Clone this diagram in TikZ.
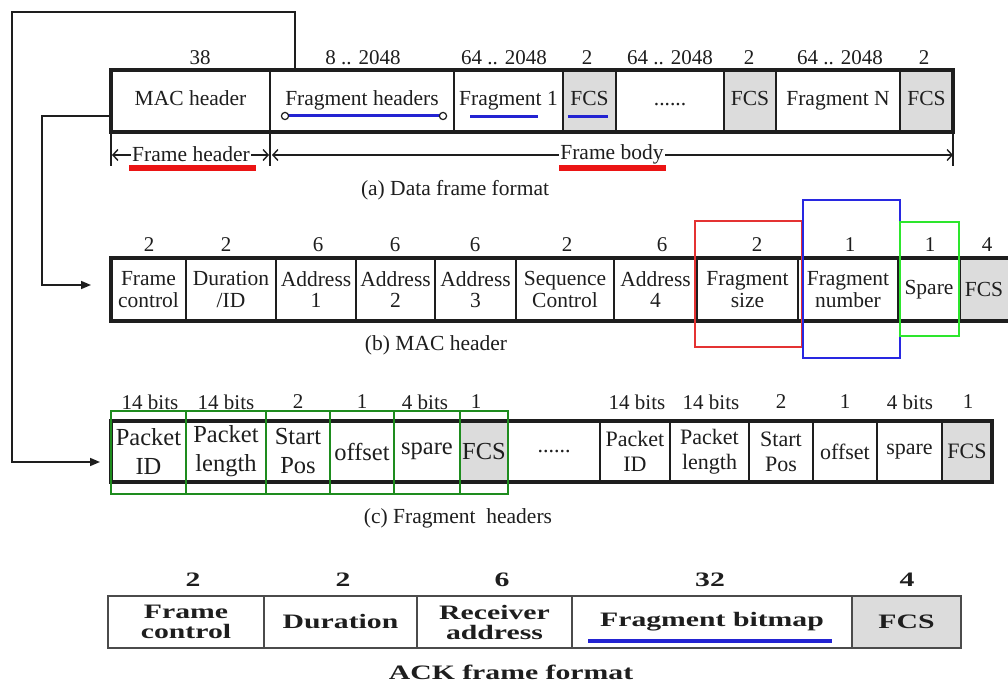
\documentclass[tikz,border=0pt]{standalone}
\usepackage{fontspec}
\setmainfont{Liberation Serif}
\newfontfamily\ackfont[FakeStretch=1.45]{Liberation Serif}
\usetikzlibrary{arrows.meta}
\definecolor{cellgray}{RGB}{220,220,220}
\definecolor{ublue}{RGB}{35,35,210}
\definecolor{ured}{RGB}{235,20,20}
\definecolor{bred}{RGB}{228,50,50}
\definecolor{bblue}{RGB}{40,40,225}
\definecolor{bgreen}{RGB}{45,230,45}
\definecolor{dgreen}{RGB}{30,140,30}
\definecolor{ink}{RGB}{30,30,30}
\newcommand\fA{\fontsize{21.5}{22}\selectfont}
\newcommand\fB{\fontsize{21.5}{21.5}\selectfont}
\newcommand\fC{\fontsize{24.5}{29}\selectfont}
\newcommand\fD{\fontsize{22}{25}\selectfont}
\newcommand\fL{\fontsize{21}{22}\selectfont}
\newcommand\fK{\ackfont\bfseries\fontsize{20.5}{20}\selectfont}
\newcommand\mkcell[7][]{\node[cell,#1,minimum width={(#4)-(#3)},minimum height={(#6)-(#5)}] (#2) at ({((#3)+(#4))/2},{((#5)+(#6))/2}) {#7};}
\begin{document}
\begin{tikzpicture}[x=1pt,y=-1pt,
  cell/.style={draw=ink,line width=2.2pt,inner sep=0pt,outer sep=0pt,align=center,text=ink},
  grayc/.style={fill=cellgray},
  oneline/.style={text height=14.5pt,text depth=4.5pt},
  rowframe/.style={draw=ink,line width=3.4pt},
  lab/.style={inner sep=0pt,text=ink,font=\fL},
  captext/.style={inner sep=0pt,text=ink,font=\fA},
  conn/.style={draw=ink,line width=1.5pt},
  tip/.style={-{Triangle[length=10pt,width=8pt]}},
  dim/.style={draw=ink,line width=1.6pt},
  barb/.style={{Straight Barb[length=5pt,width=11pt,line width=1.4pt]}-{Straight Barb[length=5pt,width=11pt,line width=1.4pt]}},
  ubar/.style={draw=ublue,line width=3pt},
  rbar/.style={draw=ured,line width=5.5pt},
  ackc/.style={cell,draw=ink!80,line width=1.6pt,font=\fK}
]
\useasboundingbox[fill=white] (0,0) rectangle (1008,684);

% ---------------- row (a)
\begin{scope}[every node/.append style={font=\fA,oneline}]
\mkcell{mac}{111}{270}{70}{132}{MAC header}
\mkcell{fh}{270}{454}{70}{132}{Fragment headers}
\mkcell{f1}{454}{563}{70}{132}{Fragment 1}
\mkcell[grayc]{fcsa}{563}{616}{70}{132}{FCS}
\mkcell{dotsa}{616}{724}{70}{132}{......}
\mkcell[grayc]{fcsb}{724}{776}{70}{132}{FCS}
\mkcell{fN}{776}{900}{70}{132}{Fragment N}
\mkcell[grayc]{fcsc}{900}{953}{70}{132}{FCS}
\end{scope}
\draw[rowframe] (mac.north west) rectangle (fcsc.south east);
\node[lab] (la1) at (200,58) {38};
\node[lab] (la2) at (363,58) {8 .. 2048};
\node[lab] (la3) at (504,58) {64 .. 2048};
\node[lab] (la4) at (587,58) {2};
\node[lab] (la5) at (670,58) {64 .. 2048};
\node[lab] (la6) at (749,58) {2};
\node[lab] (la7) at (840,58) {64 .. 2048};
\node[lab] (la8) at (924,58) {2};
% blue underlines
\draw[ubar] (285,116) -- (443,116);
\draw[ink,line width=1.2pt,fill=white] (285,116) circle (3.6) (443,116) circle (3.6);
\draw[ubar] (470,117) -- (538,117);
\draw[ubar] (568,117) -- (608,117);
% dimension lines
\draw[dim] (mac.south west) -- ++(0,34);
\draw[dim] (mac.south east) -- ++(0,34);
\draw[dim] (fcsc.south east) -- ++(0,34);
\draw[dim,barb] ([yshift=-23pt,xshift=1pt]mac.south west) -- ([yshift=-23pt,xshift=-1pt]mac.south east);
\draw[dim,barb] ([yshift=-23pt,xshift=2pt]fh.south west) -- ([yshift=-23pt]fcsc.south east);
\node[captext,fill=white,inner xsep=1pt,inner ysep=2pt] (fhd) at (191,154) {Frame header};
\node[captext,fill=white,inner xsep=1pt,inner ysep=2pt] (fbd) at (612,154) {Frame body};
\draw[rbar] (129,168) -- (256,168);
\draw[rbar] (559,168) -- (666,168);
\node[captext] (capa) at (455,190) {(a) Data frame format};

% ---------------- row (b)
\begin{scope}[every node/.append style={font=\fB}]
\mkcell{fc}{111}{186}{258}{321}{Frame\\control}
\mkcell{dur}{186}{276}{258}{321}{Duration\\/ID}
\mkcell{adA}{276}{356}{258}{321}{Address\\1}
\mkcell{adB}{356}{435}{258}{321}{Address\\2}
\mkcell{adC}{435}{516}{258}{321}{Address\\3}
\mkcell{sc}{516}{614}{258}{321}{Sequence\\Control}
\mkcell{adD}{614}{697}{258}{321}{Address\\4}
\mkcell{fs}{697}{798}{258}{321}{Fragment\\size}
\mkcell{fn}{798}{898}{258}{321}{Fragment\\number}
\mkcell{sp}{898}{960}{258}{321}{Spare}
\mkcell[grayc]{fcsm}{960}{1012}{258}{321}{\hspace*{-4pt}FCS}
\end{scope}
\draw[rowframe] (fcsm.north east) -- (fc.north west) -- (fc.south west) -- (fcsm.south east);
\node[lab] (lb1) at (149,245) {2};
\node[lab] (lb2) at (226,245) {2};
\node[lab] (lb3) at (318,245) {6};
\node[lab] (lb4) at (395,245) {6};
\node[lab] (lb5) at (475,245) {6};
\node[lab] (lb6) at (567,245) {2};
\node[lab] (lb7) at (662,245) {6};
\node[lab] (lb8) at (757,245) {2};
\node[lab] (lb9) at (850,245) {1};
\node[lab] (lb10) at (930,245) {1};
\node[lab] (lb11) at (987,245) {4};
\draw[bred,line width=2pt] (695,221) rectangle (802,347);
\draw[bblue,line width=2.2pt] (803,200) rectangle (900,358);
\draw[bgreen,line width=2pt] (900,222) rectangle (959,336);
\node[captext] (capb) at (436,345) {(b) MAC header};

% ---------------- row (c)
\begin{scope}[every node/.append style={font=\fC}]
\mkcell{pid}{111}{186}{421}{482}{Packet\\ID}
\mkcell{plen}{186}{266}{421}{482}{Packet\\length}
\mkcell{spos}{266}{330}{421}{482}{Start\\Pos}
\mkcell{off}{330}{394}{421}{482}{offset}
\mkcell{spr}{394}{460}{421}{482}{spare}
\mkcell[grayc]{cfcs}{460}{508}{421}{482}{FCS}
\end{scope}
\begin{scope}[every node/.append style={font=\fD}]
\mkcell{cdots}{508}{600}{421}{482}{......}
\mkcell{pidB}{600}{670}{421}{482}{Packet\\ID}
\mkcell{plenB}{670}{749}{421}{482}{Packet\\length}
\mkcell{sposB}{749}{813}{421}{482}{Start\\Pos}
\mkcell{offB}{813}{877}{421}{482}{offset}
\mkcell{sprB}{877}{942}{421}{482}{spare}
\mkcell[grayc]{cfcsB}{942}{992}{421}{482}{FCS}
\end{scope}
\draw[rowframe] (pid.north west) rectangle (cfcsB.south east);
\foreach \n in {pid,plen,spos,off,spr,cfcs}
  \draw[dgreen,line width=2pt] ([yshift=10pt]\n.north west) rectangle ([yshift=-12pt]\n.south east);
\node[lab] (lc1) at (150,402) {14 bits};
\node[lab] (lc2) at (226,402) {14 bits};
\node[lab] (lc3) at (298,402) {2};
\node[lab] (lc4) at (362,402) {1};
\node[lab] (lc5) at (425,402) {4 bits};
\node[lab] (lc6) at (476,402) {1};
\node[lab] (lc7) at (637,402) {14 bits};
\node[lab] (lc8) at (711,402) {14 bits};
\node[lab] (lc9) at (781,402) {2};
\node[lab] (lc10) at (845,402) {1};
\node[lab] (lc11) at (910,402) {4 bits};
\node[lab] (lc12) at (968,402) {1};
\node[captext] (capc) at (458,518) {(c) Fragment\ \ headers};

% ---------------- ACK frame
\mkcell[ackc]{kfc}{108}{264}{596}{648}{Frame\\control}
\mkcell[ackc]{kdur}{264}{417}{596}{648}{Duration}
\mkcell[ackc]{kra}{417}{572}{596}{648}{Receiver\\address}
\mkcell[ackc,text height=14pt,text depth=5pt]{kfb}{572}{852}{596}{648}{Fragment bitmap}
\mkcell[ackc,grayc]{kfcs}{852}{961}{596}{648}{FCS}
\node[lab,font=\fK] (lk1) at (193,580) {2};
\node[lab,font=\fK] (lk2) at (343,580) {2};
\node[lab,font=\fK] (lk3) at (502,580) {6};
\node[lab,font=\fK] (lk4) at (710,580) {32};
\node[lab,font=\fK] (lk5) at (907,580) {4};
\draw[draw=ublue,line width=4pt] (588,641) -- (832,641);
\node[captext,font=\fK] (capk) at (511,672) {ACK frame format};

% ---------------- connectors
\coordinate (o1) at (12,12);
\coordinate (o2) at (12,462);
\coordinate (i1) at (42,116);
\coordinate (i2) at (42,285);
\draw[conn,tip] ([xshift=25pt]fh.north west) |- (o1) -- (o2) -- ([yshift=-10.5pt,xshift=-11pt]pid.west);
\draw[conn,tip] ([yshift=-15pt]mac.west) -- (i1) -- (i2) -- ([yshift=4.5pt,xshift=-20pt]fc.west);
\end{tikzpicture}
\end{document}
